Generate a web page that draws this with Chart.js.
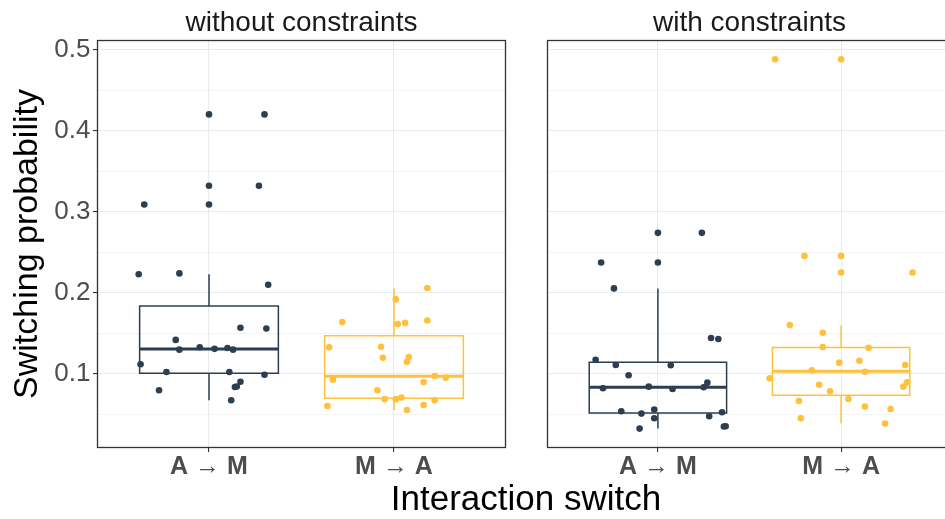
<!DOCTYPE html>
<html>
<head>
<meta charset="utf-8">
<script src="https://cdn.jsdelivr.net/npm/chart.js@4.4.1/dist/chart.umd.min.js"></script>
<style>
  html, body { margin: 0; padding: 0; background: #fff; overflow: hidden; width: 945px; height: 519px; }
  body { position: relative; font-family: "Liberation Sans", Arial, sans-serif; }
  #c1 { position: absolute; left: 0; top: 0; }
  #c2 { position: absolute; left: 530px; top: 0; }
  #xtitle { position: absolute; left: 326px; width: 400px; top: 480px; text-align: center;
            font-size: 35px; line-height: 35px; color: #000; white-space: nowrap; }
</style>
</head>
<body>
<canvas id="c1" width="520" height="519"></canvas>
<canvas id="c2" width="425" height="519"></canvas>
<div id="xtitle">Interaction switch</div>
<script>
// switching probability, two facets, boxplot + jittered points

const categories = ['A → M', 'M → A'];
const facets = ['without constraints', 'with constraints'];
const yMajor = [0.1, 0.2, 0.3, 0.4, 0.5];
const yMinor = [0.05, 0.15, 0.25, 0.35, 0.45];
const yMin = 0.010, yMax = 0.5105;

// without constraints — jittered points (x = category position incl. jitter)
const woAMx = [1.00,1.30,1.00,1.27,0.65,1.00,0.62,0.84,1.32,1.17,1.31,0.82,0.95,0.84,1.03,1.10,1.13,0.63,0.77,1.11,1.30,0.73,1.17,1.14,1.15,1.12];
const woAMy = [0.420,0.420,0.332,0.332,0.309,0.309,0.223,0.224,0.210,0.157,0.156,0.142,0.133,0.130,0.131,0.132,0.130,0.112,0.1025,0.1025,0.099,0.080,0.0905,0.084,0.0845,0.0676];
const woMAx = [2.18,2.01,1.72,2.02,2.06,2.18,1.65,1.93,1.94,2.08,2.07,2.22,2.28,1.67,2.16,1.91,1.95,2.01,2.04,2.22,1.64,2.16,2.07];
const woMAy = [0.206,0.192,0.164,0.1615,0.163,0.166,0.133,0.1336,0.120,0.121,0.115,0.0975,0.0955,0.093,0.090,0.080,0.069,0.069,0.071,0.0676,0.0606,0.0618,0.0557];

// with constraints
const wAMx = [1.00,1.24,0.69,1.00,0.76,1.29,1.33,0.66,0.77,1.07,0.84,0.70,0.95,1.08,1.25,1.27,0.80,0.91,0.98,0.98,1.28,1.35,0.90,1.36,1.37];
const wAMy = [0.274,0.274,0.2375,0.2375,0.2055,0.1443,0.1431,0.1176,0.1111,0.1107,0.0984,0.0824,0.0844,0.0815,0.0836,0.0893,0.0541,0.0512,0.0561,0.0455,0.0479,0.0529,0.0327,0.0352,0.0356];
const wMAx = [1.64,2.00,1.80,2.00,2.00,2.39,1.72,1.90,1.90,2.15,1.99,2.10,2.35,1.84,2.13,1.61,1.88,2.36,2.34,1.94,1.77,2.04,2.13,2.27,1.78,2.24];
const wMAy = [0.488,0.488,0.2456,0.2456,0.2251,0.2251,0.1603,0.1509,0.1332,0.1324,0.114,0.1164,0.1111,0.1045,0.1028,0.0947,0.0868,0.0897,0.0844,0.0787,0.0667,0.0692,0.0598,0.0569,0.0455,0.0389];

// box stats per category [A → M, M → A]
const woLow = [0.0676, 0.0557], woQ1 = [0.1009, 0.0701], woMed = [0.1308, 0.0972], woQ3 = [0.1837, 0.1472], woHigh = [0.223, 0.2055];
const wLow  = [0.0327, 0.0393], wQ1  = [0.0520, 0.0738], wMed  = [0.0836, 0.1033], wQ3  = [0.1144, 0.1328], wHigh  = [0.2055, 0.1599];

const COLORS = ['#2C3E50', '#FFC13B'];
const BOX_HALF = 0.375;

Chart.defaults.font.family = '"Liberation Sans", Arial, sans-serif';

// panel frame, drawn over the marks like ggplot's panel.border
const panelBorder = {
  id: 'panelBorder',
  afterDatasetsDraw(chart) {
    const { left, top, right, bottom } = chart.chartArea;
    const ctx = chart.ctx;
    const l = Math.round(left) - 0.5, t = Math.round(top) - 0.5;
    ctx.save();
    ctx.strokeStyle = '#333333';
    ctx.lineWidth = 1.3;
    ctx.strokeRect(l, t, Math.round(right) - Math.round(left) + 1, Math.round(bottom) - Math.round(top) + 1);
    ctx.restore();
  }
};

const isMajor = v => Math.abs(v * 10 - Math.round(v * 10)) < 1e-6;

function boxDatasets(i, low, q1, med, q3, high) {
  const c = i + 1, col = COLORS[i];
  const base = { type: 'scatter', showLine: true, pointRadius: 0, borderColor: col, fill: false, tension: 0, order: 1, borderJoinStyle: 'miter' };
  return [
    { ...base, borderWidth: 1.5, data: [
      { x: c - BOX_HALF, y: q1[i] }, { x: c + BOX_HALF, y: q1[i] }, { x: c + BOX_HALF, y: q3[i] },
      { x: c - BOX_HALF, y: q3[i] }, { x: c - BOX_HALF, y: q1[i] }, { x: c + BOX_HALF, y: q1[i] } ] },
    { ...base, borderWidth: 3, data: [{ x: c - BOX_HALF, y: med[i] }, { x: c + BOX_HALF, y: med[i] }] },
    { ...base, borderWidth: 1.5, data: [{ x: c, y: q3[i] }, { x: c, y: high[i] }] },
    { ...base, borderWidth: 1.5, data: [{ x: c, y: low[i] }, { x: c, y: q1[i] }] }
  ];
}

function pointDataset(i, xs, ys) {
  return { type: 'scatter', data: xs.map((x, k) => ({ x, y: ys[k] })), pointRadius: 3.3, pointBorderWidth: 0,
           pointBackgroundColor: COLORS[i], order: 0 };
}

function makePanel(id, title, amX, amY, maX, maY, low, q1, med, q3, high, first) {
  const datasets = [
    pointDataset(0, amX, amY), pointDataset(1, maX, maY),
    ...boxDatasets(0, low, q1, med, q3, high), ...boxDatasets(1, low, q1, med, q3, high)
  ];
  return new Chart(document.getElementById(id), {
    type: 'scatter',
    data: { datasets },
    plugins: [panelBorder],
    options: {
      responsive: false, animation: false,
      layout: { padding: { left: first ? 0 : 18, right: first ? 15 : 0, top: 0, bottom: 0 } },
      plugins: {
        legend: { display: false }, tooltip: { enabled: false },
        title: { display: true, text: title, fullSize: false, color: '#1A1A1A',
                 font: { size: 28, weight: 'normal' }, padding: { top: 6, bottom: 1.4 } }
      },
      scales: {
        x: {
          type: 'linear', min: 0.4, max: 2.6,
          afterBuildTicks: s => { s.ticks = categories.map((_, i) => ({ value: i + 1 })); },
          afterFit: s => { s.height = 72; },
          border: { display: false },
          grid: { color: '#EBEBEB', lineWidth: 1.1, tickColor: '#333333', tickLength: 5, tickWidth: 1.1 },
          ticks: { callback: v => categories[Math.round(v) - 1], color: '#4D4D4D', padding: 0,
                   font: { size: 25, weight: 'bold' }, maxRotation: 0, autoSkip: false }
        },
        y: {
          type: 'linear', min: yMin, max: yMax,
          afterBuildTicks: s => { s.ticks = [...yMinor, ...yMajor].sort((a, b) => a - b).map(v => ({ value: v })); },
          afterFit: s => { s.width = first ? 98 : 0; },
          border: { display: false },
          grid: {
            color: '#EBEBEB', drawTicks: first, tickLength: 5, tickWidth: 1.1,
            lineWidth: ctx => isMajor(ctx.tick.value) ? 1.1 : 0.55,
            tickColor: ctx => isMajor(ctx.tick.value) ? '#333333' : 'rgba(0,0,0,0)'
          },
          ticks: { display: first, callback: v => isMajor(v) ? v.toFixed(1) : '', color: '#4D4D4D',
                   padding: 2.5, font: { size: 26 }, autoSkip: false },
          title: { display: first, text: 'Switching probability', color: '#000',
                   font: { size: 34 }, padding: { top: 7, bottom: 0 } }
        }
      }
    }
  });
}

makePanel('c1', facets[0], woAMx, woAMy, woMAx, woMAy, woLow, woQ1, woMed, woQ3, woHigh, true);
makePanel('c2', facets[1], wAMx, wAMy, wMAx, wMAy, wLow, wQ1, wMed, wQ3, wHigh, false);
</script>
</body>
</html>
